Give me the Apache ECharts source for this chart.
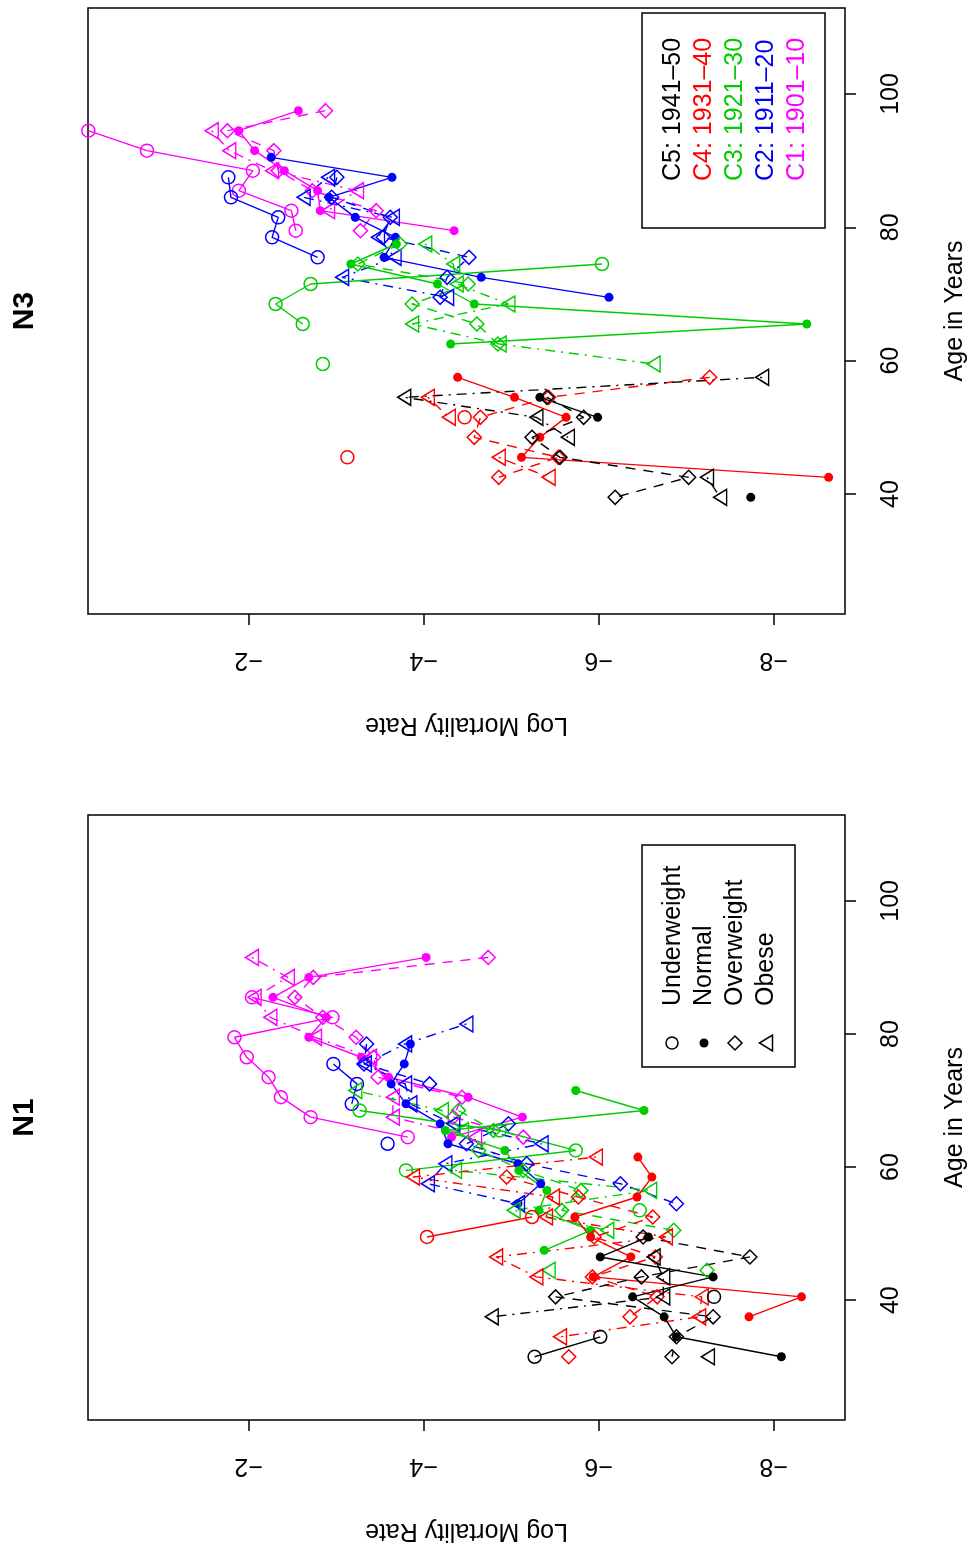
<!DOCTYPE html>
<html>
<head>
<meta charset="utf-8">
<script src="https://cdn.jsdelivr.net/npm/echarts@6/dist/echarts.min.js"></script>
<style>
html,body{margin:0;padding:0;background:#fff;}
#chart{width:969px;height:1549px;}
</style>
</head>
<body>
<div id="chart"></div>
<script>
// ---------- Labels ----------
const cohortLabels = ['C5: 1941\u201350', 'C4: 1931\u201340', 'C3: 1921\u201330', 'C2: 1911\u201320', 'C1: 1901\u201310'];
const bmiLabels = ['Underweight', 'Normal', 'Overweight', 'Obese'];
const panelTitles = ['N3', 'N1'];
const xTickValues = [-8, -6, -4, -2];
const yTickValues = [40, 60, 80, 100];

// ---------- Panel N3 (top) ----------
const n3Age_C1 = [97.5, 94.5, 91.5, 88.5, 85.5, 82.5, 79.5];
const n3_C1_under  = [null, -0.17, -0.84, -2.05, -1.89, -2.49, -2.54];
const n3_C1_normal = [-2.57, -1.89, -2.07, -2.41, -2.79, -2.82, -4.35];
const n3_C1_over   = [-2.88, -1.76, -2.29, -2.34, -2.73, -3.46, -3.28];
const n3_C1_obese  = [null, -1.58, -1.78, -2.27, -3.24, -2.91, null];

const n3Age_C2 = [90.5, 87.5, 84.5, 81.5, 78.5, 75.5, 72.5, 69.5];
const n3_C2_under  = [null, -1.77, -1.80, -2.34, -2.27, -2.79, null, null];
const n3_C2_normal = [-2.26, -3.64, -2.92, -3.22, -3.68, -3.55, -4.66, -6.12];
const n3_C2_over   = [null, -3.01, -2.95, -3.62, -3.54, -4.52, -4.27, -4.19];
const n3_C2_obese  = [null, -2.91, -2.63, -3.65, -3.48, -3.67, -3.07, -4.27];

const n3Age_C3 = [77.5, 74.5, 71.5, 68.5, 65.5, 62.5, 59.5];
const n3_C3_under  = [null, -6.04, -2.71, -2.31, -2.62, null, -2.85];
const n3_C3_normal = [-3.69, -3.17, -4.16, -4.58, -8.38, -4.31, null];
const n3_C3_over   = [-3.73, -3.25, -4.51, -3.87, -4.61, -4.85, null];
const n3_C3_obese  = [-4.02, -4.34, -4.38, -4.97, -3.87, -4.87, -6.63];

const n3Age_C4 = [57.5, 54.5, 51.5, 48.5, 45.5, 42.5, 39.5];
const n3_C4_under  = [null, null, -4.47, null, -3.13, null, null];
const n3_C4_normal = [-4.39, -5.04, -5.63, -5.33, -5.12, -8.63, null];
const n3_C4_over   = [-7.27, -5.43, -4.65, -4.58, -5.54, -4.86, null];
const n3_C4_obese  = [null, -4.05, -4.29, null, -4.86, -5.43, null];

const n3Age_C5 = [57.5, 54.5, 51.5, 48.5, 45.5, 42.5, 39.5];
const n3_C5_under  = [null, null, null, null, null, null, null];
const n3_C5_normal = [null, -5.33, -5.99, null, null, null, -7.74];
const n3_C5_over   = [null, -5.41, -5.83, -5.24, -5.56, -7.03, -6.19];
const n3_C5_obese  = [-7.87, -3.78, -5.29, -5.65, null, -7.24, -7.39];

// ---------- Panel N1 (bottom) ----------
const n1Age_C1 = [91.5, 88.5, 85.5, 82.5, 79.5, 76.5, 73.5, 70.5, 67.5, 64.5];
const n1_C1_under  = [null, null, -2.04, -2.96, -1.84, -1.98, -2.23, -2.37, -2.71, -3.82];
const n1_C1_normal = [-4.03, -2.69, -2.28, -2.89, -2.69, -3.29, -3.60, -4.51, -5.13, -4.32];
const n1_C1_over   = [-4.74, -2.74, -2.53, -2.85, -3.23, -3.43, -3.48, -4.44, -4.34, -5.14];
const n1_C1_obese  = [-2.04, -2.45, -2.07, -2.25, -2.76, -3.39, null, -3.65, -3.65, -4.59];

const n1Age_C2 = [81.5, 78.5, 75.5, 72.5, 69.5, 66.5, 63.5, 60.5, 57.5, 54.5];
const n1_C2_under  = [null, null, -2.97, -3.24, -3.18, null, -3.59, null, null, null];
const n1_C2_normal = [null, -3.85, -3.78, -3.63, -3.80, -4.19, -4.28, -5.08, -5.34, -5.08];
const n1_C2_over   = [null, -3.35, -3.32, -4.07, null, -4.97, -4.49, -5.18, -6.25, -6.89];
const n1_C2_obese  = [-4.49, -3.79, -3.33, -3.79, -3.85, -4.34, -5.35, -4.25, -4.05, -5.08];

const n1Age_C3 = [71.5, 68.5, 65.5, 62.5, 59.5, 56.5, 53.5, 50.5, 47.5, 44.5];
const n1_C3_under  = [null, -3.27, -4.87, -5.74, -3.80, null, -6.47, null, null, null];
const n1_C3_normal = [-5.74, -6.52, -4.25, -4.93, -5.09, -5.41, -5.32, -5.91, -5.38, null];
const n1_C3_over   = [null, -4.40, -4.80, -4.63, -5.14, -5.80, -5.58, -6.86, null, -7.24];
const n1_C3_obese  = [-3.22, -4.21, -4.44, null, -4.36, -6.59, -5.03, -6.10, null, -5.43];

const n1Age_C4 = [61.5, 58.5, 55.5, 52.5, 49.5, 46.5, 43.5, 40.5, 37.5, 34.5, 31.5];
const n1_C4_under  = [null, null, null, -5.24, -4.04, null, null, null, null, null, null];
const n1_C4_normal = [-6.45, -6.61, -6.44, -5.73, -5.91, -6.37, -5.94, -8.32, -7.72, null, null];
const n1_C4_over   = [null, -4.95, -5.77, -6.62, -5.95, -6.65, -5.93, -6.67, -6.36, null, -5.66];
const n1_C4_obese  = [-5.97, -3.88, -5.48, -5.40, -6.77, -4.83, -5.29, -7.18, -7.15, -5.56, null];

const n1Age_C5 = [49.5, 46.5, 43.5, 40.5, 37.5, 34.5, 31.5];
const n1_C5_under  = [null, null, null, -7.32, null, -6.02, -5.27];
const n1_C5_normal = [-6.57, -6.02, -7.31, -6.39, -6.75, -6.89, -8.09];
const n1_C5_over   = [-6.51, -7.73, -6.49, -5.51, -7.31, -6.89, -6.84];
const n1_C5_obese  = [null, -6.63, -6.74, -6.74, -4.78, null, -7.25];

// ---------- Styling ----------
const FONT = '"Liberation Sans", Arial, Helvetica, sans-serif';
const colors = { C1: '#FF00FF', C2: '#0000FF', C3: '#00CD00', C4: '#FF0000', C5: '#000000' };
const groupStyle = {
  under:  { symbol: 'circle',   size: 13,       rotate: 0,  filled: false, line: 'solid' },
  normal: { symbol: 'circle',   size: 9,        rotate: 0,  filled: true,  line: 'solid' },
  over:   { symbol: 'diamond',  size: 14,       rotate: 0,  filled: false, line: [10, 8] },
  obese:  { symbol: 'triangle', size: [16, 13], rotate: 90, filled: false, line: [2, 6, 10, 6] }
};

const panels = [
  { idx: 0, cohorts: [
    ['C1', n3Age_C1, { under: n3_C1_under, normal: n3_C1_normal, over: n3_C1_over, obese: n3_C1_obese }],
    ['C2', n3Age_C2, { under: n3_C2_under, normal: n3_C2_normal, over: n3_C2_over, obese: n3_C2_obese }],
    ['C3', n3Age_C3, { under: n3_C3_under, normal: n3_C3_normal, over: n3_C3_over, obese: n3_C3_obese }],
    ['C4', n3Age_C4, { under: n3_C4_under, normal: n3_C4_normal, over: n3_C4_over, obese: n3_C4_obese }],
    ['C5', n3Age_C5, { under: n3_C5_under, normal: n3_C5_normal, over: n3_C5_over, obese: n3_C5_obese }]
  ]},
  { idx: 1, cohorts: [
    ['C1', n1Age_C1, { under: n1_C1_under, normal: n1_C1_normal, over: n1_C1_over, obese: n1_C1_obese }],
    ['C2', n1Age_C2, { under: n1_C2_under, normal: n1_C2_normal, over: n1_C2_over, obese: n1_C2_obese }],
    ['C3', n1Age_C3, { under: n1_C3_under, normal: n1_C3_normal, over: n1_C3_over, obese: n1_C3_obese }],
    ['C4', n1Age_C4, { under: n1_C4_under, normal: n1_C4_normal, over: n1_C4_over, obese: n1_C4_obese }],
    ['C5', n1Age_C5, { under: n1_C5_under, normal: n1_C5_normal, over: n1_C5_over, obese: n1_C5_obese }]
  ]}
];

const series = [];
panels.forEach(p => {
  p.cohorts.forEach(([cName, ages, groups]) => {
    const c = colors[cName];
    Object.keys(groups).forEach(g => {
      const st = groupStyle[g];
      const vals = groups[g];
      const data = ages.map((a, i) => vals[i] == null ? ['-', a] : [vals[i], a]);
      series.push({
        type: 'line',
        xAxisIndex: p.idx, yAxisIndex: p.idx,
        data: data,
        connectNulls: false,
        symbol: st.symbol,
        symbolSize: st.size,
        symbolRotate: st.rotate,
        showSymbol: true,
        animation: false,
        silent: true,
        clip: true,
        itemStyle: st.filled
          ? { color: c, borderWidth: 0 }
          : { color: 'rgba(255,255,255,0)', borderColor: c, borderWidth: 1.5 },
        lineStyle: { color: c, width: 1.4, type: st.line },
        emphasis: { disabled: true }
      });
    });
  });
});

const fmt = v => (v < 0 ? '\u2212' : '') + Math.abs(v);

function xAxisFor(i) {
  return {
    type: 'value', gridIndex: i, inverse: true, min: -8.817, max: -0.166,
    splitLine: { show: false }, axisLine: { show: false },
    axisTick: { show: true, customValues: xTickValues, length: 11, lineStyle: { color: '#000', width: 1.5 } },
    axisLabel: { customValues: xTickValues, rotate: 180, margin: 33, fontSize: 25, color: '#000', fontFamily: FONT, formatter: fmt }
  };
}
function yAxisFor(i) {
  return {
    type: 'value', gridIndex: i, position: 'right', min: 22.0, max: 112.9,
    splitLine: { show: false }, axisLine: { show: false },
    axisTick: { show: true, customValues: yTickValues, length: 11, lineStyle: { color: '#000', width: 1.5 } },
    axisLabel: { customValues: yTickValues, rotate: 90, margin: 34, fontSize: 25, color: '#000', fontFamily: FONT, formatter: fmt }
  };
}

const gridTops = [8, 815];
const gridHeights = [606, 605];

const graphics = [];
// titles and axis names
[0, 1].forEach(i => {
  const cy = gridTops[i] + gridHeights[i] / 2;
  graphics.push({ type: 'text', x: 25, y: cy, rotation: Math.PI / 2,
    style: { text: panelTitles[i], font: 'bold 30px ' + FONT, fill: '#000', align: 'center', verticalAlign: 'middle' } });
  graphics.push({ type: 'text', x: 955, y: cy, rotation: Math.PI / 2,
    style: { text: 'Age in Years', font: '25px ' + FONT, fill: '#000', align: 'center', verticalAlign: 'middle' } });
  graphics.push({ type: 'text', x: 466.5, y: gridTops[i] + gridHeights[i] + 111, rotation: Math.PI,
    style: { text: 'Log Mortality Rate', font: '25px ' + FONT, fill: '#000', align: 'center', verticalAlign: 'middle' } });
});
// top legend (cohorts)
graphics.push({ type: 'rect', shape: { x: 642, y: 13, width: 183, height: 215 }, style: { fill: 'none', stroke: '#000', lineWidth: 1.5 } });
const cohortOrder = ['C5', 'C4', 'C3', 'C2', 'C1'];
cohortLabels.forEach((t, k) => {
  graphics.push({ type: 'text', x: 673 + k * 31, y: 181, rotation: Math.PI / 2,
    style: { text: t, font: '25px ' + FONT, fill: colors[cohortOrder[k]], align: 'left', verticalAlign: 'middle' } });
});
// bottom legend (BMI)
graphics.push({ type: 'rect', shape: { x: 642, y: 845, width: 153, height: 222 }, style: { fill: 'none', stroke: '#000', lineWidth: 1.5 } });
bmiLabels.forEach((t, k) => {
  graphics.push({ type: 'text', x: 673 + k * 31, y: 1006, rotation: Math.PI / 2,
    style: { text: t, font: '25px ' + FONT, fill: '#000', align: 'left', verticalAlign: 'middle' } });
});
const lx = [672, 704, 735, 766], ly = 1043;
graphics.push({ type: 'circle', shape: { cx: lx[0], cy: ly, r: 6 }, style: { fill: 'none', stroke: '#000', lineWidth: 1.5 } });
graphics.push({ type: 'circle', shape: { cx: lx[1], cy: ly, r: 4.5 }, style: { fill: '#000' } });
graphics.push({ type: 'polygon', shape: { points: [[lx[2], ly - 7], [lx[2] + 7, ly], [lx[2], ly + 7], [lx[2] - 7, ly]] }, style: { fill: 'none', stroke: '#000', lineWidth: 1.5 } });
graphics.push({ type: 'polygon', shape: { points: [[lx[3] - 6.5, ly], [lx[3] + 6.5, ly - 8], [lx[3] + 6.5, ly + 8]] }, style: { fill: 'none', stroke: '#000', lineWidth: 1.5 } });

const chart = echarts.init(document.getElementById('chart'), null, { renderer: 'canvas' });
chart.setOption({
  backgroundColor: '#fff',
  animation: false,
  grid: [
    { left: 88, top: gridTops[0], width: 757, height: gridHeights[0], show: true, borderColor: '#000', borderWidth: 1.5, backgroundColor: 'rgba(0,0,0,0)' },
    { left: 88, top: gridTops[1], width: 757, height: gridHeights[1], show: true, borderColor: '#000', borderWidth: 1.5, backgroundColor: 'rgba(0,0,0,0)' }
  ],
  xAxis: [xAxisFor(0), xAxisFor(1)],
  yAxis: [yAxisFor(0), yAxisFor(1)],
  series: series,
  graphic: graphics
});
</script>
</body>
</html>
